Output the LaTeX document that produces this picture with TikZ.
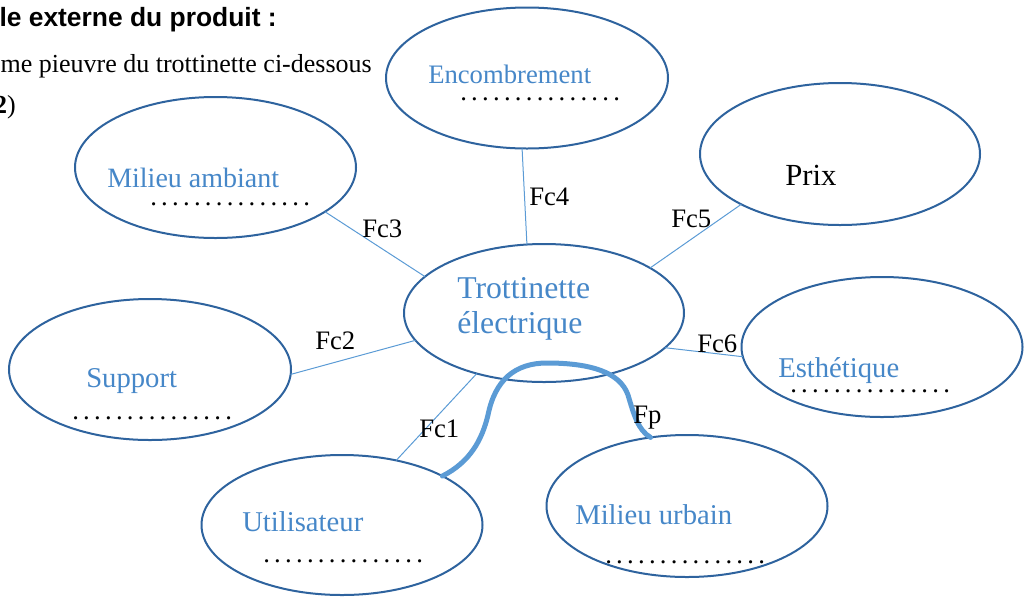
\documentclass[tikz,border=0pt]{standalone}
\usepackage{fontspec}
\setmainfont{Liberation Serif}
\newfontfamily\arialfont{Liberation Sans}
\usetikzlibrary{shapes.geometric}
\definecolor{ellcol}{RGB}{46,99,158}
\definecolor{txtcol}{RGB}{70,135,200}
\definecolor{lincol}{RGB}{91,155,213}
\newcommand{\pointilles}{.\kern3.2pt.\kern3.2pt.\kern3.2pt.\kern3.2pt.\kern3.2pt.\kern3.2pt.\kern3.2pt.\kern3.2pt.\kern3.2pt.\kern3.2pt.\kern3.2pt.\kern3.2pt.\kern3.2pt.\kern3.2pt.}
\tikzset{
  bulle/.style={draw=ellcol, line width=1.5pt, ellipse, inner sep=0pt, outer sep=0pt},
  etiq/.style={text=txtcol, inner sep=0pt, anchor=base west, font=\fontsize{21.5}{24}\selectfont},
  pts/.style={inner sep=0pt, anchor=base west, text height=3pt, text depth=0pt, font=\fontsize{20}{22}\selectfont},
  fcl/.style={inner sep=0pt, anchor=base west, font=\fontsize{20}{22}\selectfont},
  lien/.style={draw=lincol, line width=0.75pt},
  fplien/.style={draw=lincol, line width=3.75pt, line cap=round}
}
\begin{document}
\begin{tikzpicture}[x=0.75pt, y=-0.75pt]
\useasboundingbox (0,0) rectangle (1024,597);
% header texts (cut at left edge)
\node[inner sep=0pt, anchor=base east, font=\arialfont\bfseries\fontsize{19.8}{22}\selectfont] (h1) at (277,26) {le externe du produit :};
\node[inner sep=0pt, anchor=base east, font=\fontsize{19.5}{22}\selectfont] (h2) at (372,72) {me pieuvre du trottinette ci-dessous};
\node[inner sep=0pt, anchor=base east, font=\fontsize{19.5}{22}\selectfont] (h3) at (16,113) {\textbf{2})};
% ellipses
\node[bulle, minimum width=282*0.75pt, minimum height=141*0.75pt] (enc) at (527,78) {};
\node[bulle, minimum width=281*0.75pt, minimum height=141*0.75pt] (amb) at (215.5,167.5) {};
\node[bulle, minimum width=280*0.75pt, minimum height=142*0.75pt] (prix) at (840,154) {};
\node[bulle, minimum width=280*0.75pt, minimum height=138*0.75pt] (tro) at (544,313) {};
\node[bulle, minimum width=281*0.75pt, minimum height=140*0.75pt] (est) at (882,347) {};
\node[bulle, minimum width=282*0.75pt, minimum height=141*0.75pt] (sup) at (150,369.5) {};
\node[bulle, minimum width=281*0.75pt, minimum height=140*0.75pt] (uti) at (342,525) {};
\node[bulle, minimum width=281*0.75pt, minimum height=142*0.75pt] (urb) at (687,506) {};
% texts
\node[etiq, font=\fontsize{20}{22}\selectfont] (tenc) at (428,83) {Encombrement};
\node[pts] (denc) at (460,100) {\pointilles};
\node[etiq, font=\fontsize{21}{24}\selectfont] (tamb) at (107,187) {Milieu ambiant};
\node[pts] (damb) at (150,205) {\pointilles};
\node[inner sep=0pt, anchor=base west, font=\fontsize{23}{26}\selectfont] (tprix) at (785,185) {Prix};
\node[etiq, font=\fontsize{23.8}{26}\selectfont] (ttro1) at (457,298) {Trottinette};
\node[etiq, font=\fontsize{23.8}{26}\selectfont] (ttro2) at (457,333) {électrique};
\node[etiq] (test) at (778,377) {Esthétique};
\node[pts] (dest) at (790,392) {\pointilles};
\node[etiq] (tsup) at (86,387) {Support};
\node[pts] (dsup) at (72,419) {\pointilles};
\node[etiq] (tuti) at (242,531) {Utilisateur};
\node[pts] (duti) at (263,562) {\pointilles};
\node[etiq] (turb) at (575,524) {Milieu urbain};
\node[pts] (durb) at (605,563) {\pointilles};
% connectors
\draw[lien] (enc.266.7) -- (tro.104.4);
\draw[lien] (amb.-22) -- (tro.163.6);
\draw[lien] (sup.-2.2) -- (tro.192.7);
\draw[lien] (tro.222.5) -- (uti.50.6);
\draw[lien] (tro.23.1) -- (prix.207);
\draw[lien] (tro.344) -- (est.184.1);
% Fp curve
\coordinate (fpa) at (uti.26.6);
\coordinate (fpb) at (urb.118.8);
\draw[fplien] (fpa) .. controls (470,462) and (482,440) .. (488,415)
  .. controls (495,380) and (515,363) .. (547,363)
  .. controls (590,363) and (620,372) .. (628,395)
  .. controls (634,415) and (638,430) .. (fpb);
% labels
\node[fcl] (l4) at (529,205) {Fc4};
\node[fcl] (l3) at (362,237) {Fc3};
\node[fcl] (l2) at (315,349) {Fc2};
\node[fcl] (l1) at (419,437) {Fc1};
\node[fcl] (l5) at (671,227) {Fc5};
\node[fcl] (l6) at (697,352) {Fc6};
\node[fcl] (lp) at (633,423) {Fp};
\end{tikzpicture}
\end{document}
